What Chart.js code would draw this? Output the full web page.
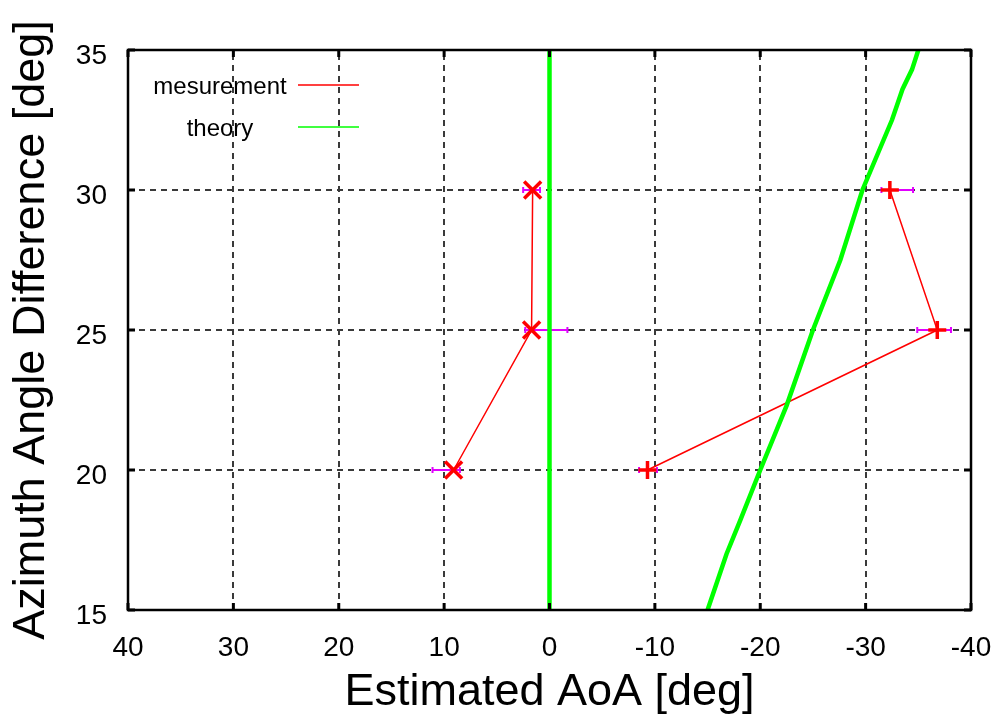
<!DOCTYPE html>
<html>
<head>
<meta charset="utf-8">
<script src="https://cdn.jsdelivr.net/npm/chart.js@4.4.1/dist/chart.umd.min.js"></script>
<style>
  html, body { margin: 0; padding: 0; background: #fff; }
  canvas { display: block; }
</style>
</head>
<body>
<canvas id="c" width="998" height="720"></canvas>
<script>
// Axis ticks
const xTickValues = [40, 30, 20, 10, 0, -10, -20, -30, -40];
const yTickValues = [15, 20, 25, 30, 35];

// Measured AoA, first pair (x markers)
const azimuthA = [30, 25, 20];
const aoaA     = [1.6, 1.7, 9.1];
const aoaALow  = [0.9, -1.7, 8.5];
const aoaAHigh = [2.5, 2.3, 11.1];

// Measured AoA, second pair (+ markers)
const azimuthB = [30, 25, 20];
const aoaB     = [-32.3, -36.8, -9.3];
const aoaBLow  = [-34.5, -38.1, -10.2];
const aoaBHigh = [-31.5, -34.9, -8.5];

// Theoretical curves
const theoryAzA  = [15, 35];
const theoryAoaA = [0, 0];
const theoryAzB  = [15, 17, 18.2, 20, 22.3, 25, 27.5, 30, 32.5, 33.6, 34.3, 35];
const theoryAoaB = [-15, -16.8, -18.1, -20, -22.5, -25, -27.6, -29.7, -32.5, -33.5, -34.4, -35];

const FONT = '"Liberation Sans", Arial, Helvetica, sans-serif';
const RED = '#ff0000';
const GREEN = '#00ff00';
const ERR = 'rgb(225,0,255)';

const pts = (xs, ys) => xs.map((x, i) => ({ x: x, y: ys[i] }));

// grid, error bars, frame with inward ticks, key
const framePlugin = {
  id: 'frame',
  beforeDatasetsDraw(chart) {
    const { ctx, chartArea: a, scales: { x, y } } = chart;
    ctx.save();
    ctx.strokeStyle = '#3a3a3a';
    ctx.lineWidth = 2;
    ctx.setLineDash([6, 5]);
    xTickValues.forEach(v => {
      if (v === x.min || v === x.max) return;
      const px = Math.round(x.getPixelForValue(v));
      ctx.beginPath(); ctx.moveTo(px, a.bottom); ctx.lineTo(px, a.top); ctx.stroke();
    });
    yTickValues.forEach(v => {
      if (v === y.min || v === y.max) return;
      const py = Math.round(y.getPixelForValue(v));
      ctx.beginPath(); ctx.moveTo(a.left, py); ctx.lineTo(a.right, py); ctx.stroke();
    });
    ctx.setLineDash([]);

    // horizontal error bars
    ctx.strokeStyle = ERR;
    ctx.lineWidth = 2;
    chart.data.datasets.forEach(ds => {
      if (!ds.errLow) return;
      ds.data.forEach((p, i) => {
        const py = y.getPixelForValue(p.y);
        const x1 = x.getPixelForValue(ds.errLow[i]);
        const x2 = x.getPixelForValue(ds.errHigh[i]);
        ctx.beginPath();
        ctx.moveTo(x1, py); ctx.lineTo(x2, py);
        ctx.moveTo(x1, py - 3); ctx.lineTo(x1, py + 3);
        ctx.moveTo(x2, py - 3); ctx.lineTo(x2, py + 3);
        ctx.stroke();
      });
    });
    ctx.restore();
  },
  afterDatasetsDraw(chart) {
    const { ctx, chartArea: a, scales: { x, y } } = chart;
    ctx.save();
    ctx.strokeStyle = '#000';
    ctx.lineWidth = 3;
    const t = 7;
    ctx.beginPath();
    xTickValues.forEach(v => {
      const px = x.getPixelForValue(v);
      ctx.moveTo(px, a.bottom); ctx.lineTo(px, a.bottom - t);
      ctx.moveTo(px, a.top); ctx.lineTo(px, a.top + t);
    });
    yTickValues.forEach(v => {
      const py = y.getPixelForValue(v);
      ctx.moveTo(a.left, py); ctx.lineTo(a.left + t, py);
      ctx.moveTo(a.right, py); ctx.lineTo(a.right - t, py);
    });
    ctx.stroke();
    ctx.lineWidth = 2.5;
    ctx.strokeRect(a.left, a.top, a.right - a.left, a.bottom - a.top);

    // key
    const entries = chart.data.datasets
      .filter(d => d.keyLabel)
      .sort((p, q) => p.keyRow - q.keyRow);
    ctx.font = '24px ' + FONT;
    ctx.textAlign = 'center';
    ctx.textBaseline = 'alphabetic';
    ctx.fillStyle = '#000';
    entries.forEach((d, i) => {
      const ly = 85 + i * 42;
      ctx.fillText(d.keyLabel, 220, ly + 9);
      ctx.strokeStyle = d.borderColor;
      ctx.lineWidth = 1.5;
      ctx.beginPath(); ctx.moveTo(298, ly); ctx.lineTo(359, ly); ctx.stroke();
    });
    ctx.restore();
  }
};

const fixX = s => { s.height = 110; s.paddingLeft = 0; s.paddingRight = 0; };
const fixY = s => { s.width = 128; s.paddingTop = 0; s.paddingBottom = 0; };

new Chart(document.getElementById('c'), {
  type: 'scatter',
  data: {
    datasets: [
      {
        data: pts(theoryAoaA, theoryAzA),
        showLine: true, borderColor: GREEN, borderWidth: 4.5,
        pointRadius: 0, fill: false
      },
      {
        keyLabel: 'theory', keyRow: 1,
        data: pts(theoryAoaB, theoryAzB),
        showLine: true, borderColor: GREEN, borderWidth: 4.5,
        pointRadius: 0, fill: false
      },
      {
        keyLabel: 'mesurement', keyRow: 0,
        data: pts(aoaA, azimuthA),
        errLow: aoaALow, errHigh: aoaAHigh,
        showLine: true, borderColor: RED, borderWidth: 1.5,
        pointStyle: 'crossRot', pointRadius: 12, pointBorderWidth: 3.5,
        pointBorderColor: RED, pointBackgroundColor: RED
      },
      {
        data: pts(aoaB, azimuthB),
        errLow: aoaBLow, errHigh: aoaBHigh,
        showLine: true, borderColor: RED, borderWidth: 1.5,
        pointStyle: 'cross', pointRadius: 9, pointBorderWidth: 3.5,
        pointBorderColor: RED, pointBackgroundColor: RED
      }
    ]
  },
  options: {
    responsive: false,
    animation: false,
    devicePixelRatio: 1,
    layout: { padding: { top: 50, right: 27, left: 0, bottom: 0 } },
    plugins: { legend: { display: false }, tooltip: { enabled: false } },
    scales: {
      x: {
        type: 'linear', min: -40, max: 40, reverse: true,
        afterBuildTicks: s => { s.ticks = xTickValues.map(v => ({ value: v })); },
        afterFit: fixX,
        grid: { display: false, drawTicks: false },
        border: { display: false },
        ticks: {
          autoSkip: false, maxRotation: 0, padding: 21, color: '#000',
          font: { family: FONT, size: 28 },
          callback: v => String(v)
        },
        title: {
          display: true, text: 'Estimated AoA [deg]', color: '#000',
          font: { family: FONT, size: 45 }, padding: { top: 0, bottom: 0 }
        }
      },
      y: {
        type: 'linear', min: 15, max: 35,
        afterBuildTicks: s => { s.ticks = yTickValues.map(v => ({ value: v })); },
        afterFit: fixY,
        grid: { display: false, drawTicks: false },
        border: { display: false },
        ticks: {
          autoSkip: false, padding: 21, labelOffset: 6, color: '#000',
          font: { family: FONT, size: 28 },
          callback: v => String(v)
        },
        title: {
          display: true, text: 'Azimuth Angle Difference [deg]', color: '#000',
          font: { family: FONT, size: 45 }, padding: { top: 5, bottom: 0 }
        }
      }
    }
  },
  plugins: [framePlugin]
});
</script>
</body>
</html>
